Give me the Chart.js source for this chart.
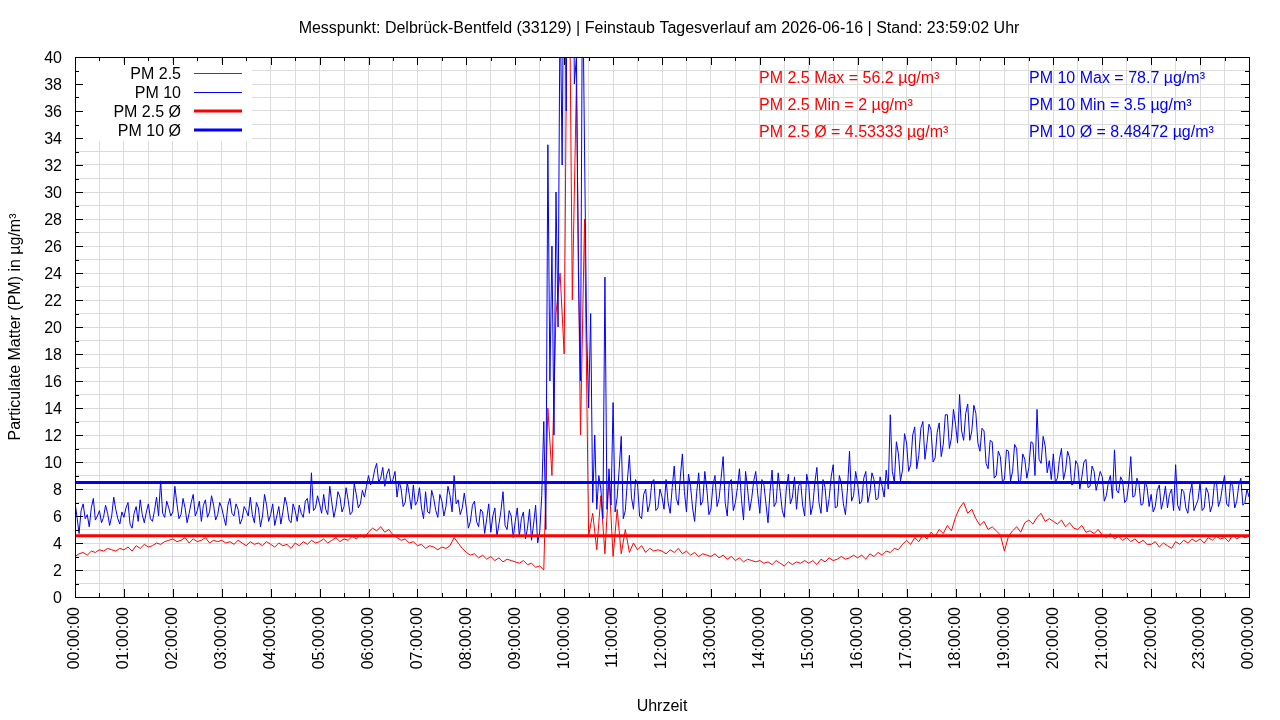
<!DOCTYPE html>
<html>
<head>
<meta charset="utf-8">
<title>Feinstaub Tagesverlauf</title>
<script src="https://cdn.jsdelivr.net/npm/chart.js@4.4.1/dist/chart.umd.min.js"></script>
<style>
    html, body { margin: 0; padding: 0; background: #fff; }
    #wrap { width: 1280px; height: 720px; position: relative; }
</style>
</head>
<body>
<div id="wrap"><canvas id="pmChart"></canvas></div>
<script>
// PM2.5 read every 5 minutes, PM10 every 2.5 minutes, 00:00 .. 24:00
const PM25_STEP_MIN = 5;
const PM10_STEP_MIN = 2.5;

const HOUR_LABELS = [
    "00:00:00", "01:00:00", "02:00:00", "03:00:00", "04:00:00", "05:00:00", "06:00:00",
    "07:00:00", "08:00:00", "09:00:00", "10:00:00", "11:00:00", "12:00:00", "13:00:00",
    "14:00:00", "15:00:00", "16:00:00", "17:00:00", "18:00:00", "19:00:00", "20:00:00",
    "21:00:00", "22:00:00", "23:00:00", "00:00:00"
];

const pm25 = [
    3.0, 3.2, 3.3, 3.1, 3.4, 3.3, 3.5, 3.4, 3.6, 3.5, 3.4, 3.6,
    3.5, 3.7, 3.4, 3.8, 3.6, 3.9, 3.7, 3.8, 4.0, 3.9, 4.1, 4.2,
    4.3, 4.1, 4.2, 4.4, 4.0, 4.3, 4.1, 4.2, 4.4, 4.0, 4.2, 4.1,
    4.2, 4.0, 4.1, 3.9, 4.2, 4.0, 3.8, 4.1, 3.9, 4.0, 3.8, 4.1,
    3.9, 3.7, 4.0, 3.8, 3.9, 3.6, 4.0, 3.8, 4.1, 3.9, 4.2, 4.0,
    4.1, 4.3, 4.0, 4.2, 4.4, 4.1, 4.3, 4.2, 4.5, 4.3, 4.6, 4.4,
    4.8, 5.1, 4.9, 5.2, 4.8, 5.0, 4.6, 4.4, 4.2, 4.3, 4.0, 4.1,
    3.8, 3.9, 3.6, 3.8, 3.7, 3.5, 3.7, 3.6, 3.8, 4.4, 4.0, 3.6,
    3.3, 3.1, 3.2, 2.9, 3.1, 2.8, 3.0, 2.7, 2.9, 2.6, 2.8, 2.7,
    2.6, 2.5, 2.7, 2.4, 2.5, 2.2, 2.3, 2.0, 14.0, 9.0, 21.0, 24.0,
    18.0, 56.2, 22.0, 38.0, 12.0, 28.0, 4.5, 6.2, 3.5, 7.5, 3.2, 8.8,
    3.0, 6.5, 3.2, 5.0, 3.3, 4.0, 3.5, 3.8, 3.3, 3.6, 3.4, 3.5,
    3.4, 3.2, 3.5, 3.3, 3.6, 3.2, 3.4, 3.1, 3.3, 3.0, 3.2, 3.1,
    3.0, 3.2, 2.9, 3.1, 2.8, 3.0, 2.7, 2.9, 2.6, 2.8, 2.7, 2.6,
    2.7, 2.5, 2.6, 2.4, 2.7, 2.5, 2.3, 2.6, 2.4, 2.6, 2.5, 2.7,
    2.5, 2.7, 2.4, 2.8, 2.6, 2.9, 2.7, 2.8, 3.0, 2.8, 2.9, 3.1,
    2.9, 3.1, 2.8, 3.2, 3.0, 3.3, 3.1, 3.4, 3.3, 3.6, 3.5, 3.9,
    4.2, 3.9, 4.4, 4.1, 4.6, 4.3, 4.8, 4.5, 5.0, 4.7, 5.3, 4.9,
    5.9, 6.6, 7.0, 6.2, 6.5, 5.8, 5.3, 5.6, 5.0, 5.2, 4.9, 4.6,
    3.4, 4.5, 4.9, 5.2, 4.8, 5.5, 5.7, 5.4, 5.9, 6.2, 5.6, 5.8,
    5.6, 5.4, 5.7, 5.2, 5.5, 5.1, 5.0, 5.3, 4.8, 4.9, 4.7, 5.0,
    4.6, 4.4, 4.7, 4.3, 4.5, 4.2, 4.4, 4.1, 4.3, 4.0, 4.2, 3.9,
    3.9, 4.1, 3.7, 4.0, 3.8, 3.6, 4.1, 3.9, 4.2, 4.0, 4.3, 4.1,
    4.3, 4.0, 4.4, 4.2, 4.5, 4.3, 4.4, 4.1, 4.6, 4.3, 4.5, 4.4,
    4.5
];

const pm10 = [
    7.0, 5.9, 4.7, 6.4, 6.9, 5.8, 6.1, 5.2, 6.6, 7.3, 5.7, 6.0, 6.4, 5.5, 5.9, 6.8, 6.2, 5.3, 6.0, 7.4, 6.5, 5.8, 5.4, 6.3,
    5.9, 6.6, 7.0, 5.4, 5.1, 6.2, 6.7, 5.6, 7.2, 6.1, 5.5, 6.3, 6.9, 5.8, 5.6, 6.4, 7.4, 6.0, 8.6, 6.2, 5.9, 7.1, 6.6, 6.0,
    6.3, 8.2, 6.9, 5.8, 6.1, 7.3, 6.6, 5.5, 6.2, 7.0, 7.6, 6.0, 6.4, 7.1, 5.6, 6.8, 7.2, 5.9, 6.3, 7.5, 6.8, 5.7, 6.1, 7.0,
    6.6, 5.9, 5.3, 6.8, 7.3, 6.2, 6.0, 6.9, 6.5, 5.4, 5.8, 6.7, 6.4, 6.0, 7.4, 6.1, 5.5, 7.0, 6.6, 5.2, 6.0, 7.6, 6.8, 5.6,
    6.1, 6.9, 5.3, 6.0, 6.7, 5.4, 6.3, 7.4, 6.8, 5.7, 5.5, 6.9, 6.4, 5.6, 6.8, 6.2, 5.9, 7.1, 7.3, 6.2, 9.2, 6.4, 6.6, 7.5,
    6.9, 6.2, 7.6, 6.5, 6.1, 8.2, 7.0, 5.9, 6.6, 7.8, 7.4, 6.3, 6.7, 8.1, 7.2, 6.1, 6.3, 8.4, 7.6, 6.6, 6.9, 7.9, 7.4, 8.2,
    9.0, 8.3, 8.6, 9.4, 9.9, 8.5, 8.8, 9.6, 8.2, 9.1, 9.5, 8.4, 8.7, 9.3, 7.4, 8.6, 8.0, 6.7, 7.0, 8.5, 7.6, 6.5, 8.3, 6.8,
    7.1, 8.1, 6.6, 5.8, 7.8, 6.3, 6.2, 7.9, 7.3, 6.4, 5.9, 7.6, 7.1, 6.0, 6.7, 8.2, 7.5, 6.3, 9.0, 6.9, 7.2, 6.1, 6.6, 7.7,
    6.6, 5.1, 5.6, 6.8, 7.1, 5.6, 5.2, 6.5, 6.3, 4.7, 5.8, 6.9, 4.8, 6.0, 6.6, 4.5, 5.4, 6.4, 7.8, 5.3, 5.0, 6.4, 6.0, 4.4,
    5.6, 6.6, 4.5, 5.8, 6.3, 4.3, 5.1, 6.5, 4.2, 5.4, 6.8, 4.0, 4.8, 7.5, 13.0, 5.0, 33.5, 16.0, 26.0, 12.0, 30.0, 20.0, 45.0, 32.0,
    52.0, 36.0, 78.7, 44.0, 60.0, 38.0, 40.0, 24.0, 16.0, 47.0, 33.0, 20.0, 14.0, 21.0, 7.0, 12.0, 6.5, 9.0, 8.0, 5.8, 23.7, 6.5, 9.5, 6.8,
    14.4, 6.3, 7.4, 9.5, 11.9, 5.8, 6.4, 8.6, 10.5, 7.4, 6.5, 8.7, 8.4, 6.0, 5.8, 7.6, 8.0, 6.3, 6.9, 8.5, 8.7, 6.4, 6.6, 8.0,
    7.4, 6.5, 8.7, 7.0, 6.2, 8.1, 9.7, 7.3, 6.8, 8.9, 10.6, 7.8, 6.3, 9.1, 8.2, 6.6, 5.6, 7.7, 9.2, 6.8, 7.1, 9.3, 8.0, 6.1,
    6.5, 8.3, 9.0, 6.7, 7.3, 8.8, 10.4, 7.0, 6.0, 8.5, 8.7, 6.4, 7.0, 8.1, 9.5, 7.2, 5.7, 9.3, 8.0, 6.4, 7.3, 8.6, 9.3, 7.6,
    6.2, 8.7, 8.3, 6.9, 5.5, 7.8, 9.4, 6.7, 7.0, 9.2, 7.8, 6.4, 5.9, 8.0, 9.1, 6.9, 7.4, 8.9, 6.5, 8.2, 8.6, 6.8, 6.0, 9.1,
    8.3, 6.1, 6.8, 8.5, 9.6, 7.0, 6.2, 8.7, 8.1, 6.3, 7.3, 8.9, 9.8, 6.6, 6.7, 9.0, 8.4, 6.9, 6.1, 8.0, 10.8, 7.1, 7.5, 9.3,
    8.4, 6.9, 7.1, 8.8, 9.3, 7.0, 7.7, 9.2, 8.7, 7.2, 7.3, 8.9, 8.2, 7.4, 9.4, 8.0, 13.5, 9.3, 8.5, 11.5, 10.6, 8.6, 9.4, 12.1,
    11.4, 9.3, 9.8, 12.0, 12.6, 9.5, 10.5, 12.5, 13.0, 10.2, 11.4, 12.8, 12.4, 10.0, 10.3, 12.2, 12.9, 10.4, 11.3, 13.5, 13.5, 11.0, 11.8, 13.9,
    12.8, 11.4, 15.0, 12.3, 11.6, 13.6, 14.3, 11.6, 12.3, 14.2, 13.6, 11.4, 10.8, 12.5, 12.3, 9.9, 9.5, 11.6, 11.5, 8.8, 9.0, 10.8, 10.4, 8.6,
    8.7, 10.9, 10.8, 8.6, 9.3, 11.3, 11.0, 8.4, 8.7, 10.6, 10.2, 8.8, 9.6, 11.5, 11.4, 9.0, 13.9, 10.2, 9.9, 11.9, 11.2, 9.2, 10.1, 8.7,
    10.6, 8.5, 8.8, 10.2, 11.0, 8.7, 9.4, 10.8, 10.3, 8.3, 8.4, 10.1, 9.8, 8.0, 8.9, 10.0, 10.2, 8.1, 8.2, 9.7, 9.3, 7.9, 8.6, 9.3,
    8.9, 7.1, 7.5, 8.5, 9.0, 7.3, 10.9, 7.9, 7.7, 8.9, 8.6, 7.0, 7.2, 8.4, 10.4, 7.4, 7.5, 8.8, 8.4, 6.8, 6.9, 8.6, 8.1, 6.7,
    7.6, 6.3, 6.7, 7.9, 8.3, 6.5, 7.2, 8.2, 6.6, 7.6, 8.0, 6.4, 9.8, 6.8, 6.4, 8.0, 7.8, 6.6, 6.2, 7.7, 8.4, 6.4, 6.8, 7.2,
    8.5, 6.4, 6.6, 8.1, 7.7, 6.3, 6.8, 8.4, 8.6, 6.7, 7.2, 8.2, 9.0, 6.9, 6.7, 8.6, 8.2, 6.6, 7.1, 8.3, 8.8, 6.8, 7.0, 8.0,
    7.4
];

const PM25_AVG = 4.53333;
const PM10_AVG = 8.48472;
const PM25_STATS = ["PM 2.5 Max = 56.2 µg/m³", "PM 2.5 Min = 2 µg/m³", "PM 2.5 Ø = 4.53333 µg/m³"];
const PM10_STATS = ["PM 10 Max = 78.7 µg/m³", "PM 10 Min = 3.5 µg/m³", "PM 10 Ø = 8.48472 µg/m³"];

const TITLE = "Messpunkt: Delbrück-Bentfeld (33129) | Feinstaub Tagesverlauf am 2026-06-16 | Stand: 23:59:02 Uhr";
const RED = '#ff0000';
const BLUE = '#0000ff';
const DAY_MIN = 1440;

function toPoints(values, step) {
    return values.map((v, i) => ({ x: i * step, y: v }));
}

Chart.defaults.font.family = '"Liberation Sans", Arial, sans-serif';
Chart.defaults.font.size = 16;
Chart.defaults.color = '#000';

// gnuplot look: frame, inward ticks, key box, stats text
const gnuplotFrame = {
    id: 'gnuplotFrame',
    beforeDatasetsDraw(chart) {
        const ctx = chart.ctx;
        const a = chart.chartArea;
        ctx.save();
        ctx.fillStyle = '#fff';
        ctx.fillRect(a.left + 1, 63, 176, 78);
        ctx.restore();
    },
    afterDraw(chart) {
        const ctx = chart.ctx;
        const a = chart.chartArea;
        const xs = chart.scales.x;
        const ys = chart.scales.y;
        ctx.save();

        // ticks
        ctx.strokeStyle = '#000';
        ctx.lineWidth = 1;
        ctx.beginPath();
        for (let v = 0; v <= 40; v++) {
            const py = Math.round(ys.getPixelForValue(v)) + 0.5;
            const len = v % 2 === 0 ? 8 : 4;
            ctx.moveTo(a.left, py); ctx.lineTo(a.left + len, py);
            ctx.moveTo(a.right, py); ctx.lineTo(a.right - len, py);
        }
        for (let m = 0; m <= DAY_MIN; m += 30) {
            const px = Math.round(xs.getPixelForValue(m)) + 0.5;
            const len = m % 60 === 0 ? 8 : 4;
            ctx.moveTo(px, a.bottom); ctx.lineTo(px, a.bottom - len);
            ctx.moveTo(px, a.top); ctx.lineTo(px, a.top + len);
        }
        ctx.stroke();
        ctx.strokeRect(Math.round(a.left) + 0.5, Math.round(a.top) + 0.5,
            Math.round(a.right - a.left), Math.round(a.bottom - a.top));

        // title
        ctx.font = '16px "Liberation Sans", Arial, sans-serif';
        ctx.fillStyle = '#000';
        ctx.textAlign = 'center';
        ctx.textBaseline = 'middle';
        ctx.fillText(TITLE, 659, 29);

        // key
        const sets = chart.data.datasets;
        ['PM 2.5', 'PM 10', 'PM 2.5 Ø', 'PM 10 Ø'].forEach((lbl, i) => {
            const ds = sets.find(d => d.label === lbl);
            const y = 75 + i * 19;
            const ly = 73 + i * 19 + (ds.borderWidth === 1 ? 0.5 : 0);
            ctx.fillStyle = '#000';
            ctx.textAlign = 'right';
            ctx.fillText(lbl, 181, y);
            ctx.strokeStyle = ds.borderColor;
            ctx.lineWidth = ds.borderWidth;
            ctx.beginPath();
            ctx.moveTo(194, ly);
            ctx.lineTo(242, ly);
            ctx.stroke();
        });

        // stats
        ctx.textAlign = 'left';
        PM25_STATS.forEach((t, i) => {
            ctx.fillStyle = RED;
            ctx.fillText(t, 759, 79 + i * 27);
        });
        PM10_STATS.forEach((t, i) => {
            ctx.fillStyle = BLUE;
            ctx.fillText(t, 1029, 79 + i * 27);
        });
        ctx.restore();
    }
};

const ctx = document.getElementById('pmChart').getContext('2d');
const pmChart = new Chart(ctx, {
    type: 'line',
    data: {
        datasets: [
            { label: 'PM 2.5', data: toPoints(pm25, PM25_STEP_MIN), borderColor: RED, borderWidth: 1, order: 4 },
            { label: 'PM 10', data: toPoints(pm10, PM10_STEP_MIN), borderColor: BLUE, borderWidth: 1, order: 3 },
            { label: 'PM 2.5 Ø', data: [{ x: 0, y: PM25_AVG }, { x: DAY_MIN, y: PM25_AVG }], borderColor: RED, borderWidth: 3, order: 2 },
            { label: 'PM 10 Ø', data: [{ x: 0, y: PM10_AVG }, { x: DAY_MIN, y: PM10_AVG }], borderColor: BLUE, borderWidth: 3, order: 1 }
        ]
    },
    options: {
        responsive: true,
        maintainAspectRatio: false,
        animation: false,
        devicePixelRatio: 1,
        layout: { padding: { top: 57, right: 31, bottom: 0, left: 0 } },
        elements: {
            point: { radius: 0 },
            line: { tension: 0, borderJoinStyle: 'bevel', fill: false }
        },
        scales: {
            x: {
                type: 'linear',
                min: 0,
                max: DAY_MIN,
                afterFit(scale) { scale.height = 123; },
                border: { display: false },
                grid: { color: '#dcdcdc', drawTicks: false },
                ticks: {
                    stepSize: 30,
                    autoSkip: false,
                    minRotation: 90,
                    maxRotation: 90,
                    padding: 10,
                    callback: (v) => (v % 60 === 0 ? HOUR_LABELS[v / 60] : '')
                },
                title: { display: true, text: 'Uhrzeit', padding: { top: 0, bottom: 4 } }
            },
            y: {
                min: 0,
                max: 40,
                afterFit(scale) { scale.width = 75; },
                border: { display: false },
                grid: { color: '#dcdcdc', drawTicks: false },
                ticks: {
                    stepSize: 1,
                    autoSkip: false,
                    padding: 13,
                    labelOffset: 2,
                    callback: (v) => (v % 2 === 0 ? v : '')
                },
                title: { display: true, text: 'Particulate Matter (PM) in µg/m³', padding: { top: 6, bottom: 0 } }
            }
        },
        plugins: {
            legend: { display: false },
            tooltip: { enabled: false },
            title: { display: false }
        }
    },
    plugins: [gnuplotFrame]
});
</script>
</body>
</html>
